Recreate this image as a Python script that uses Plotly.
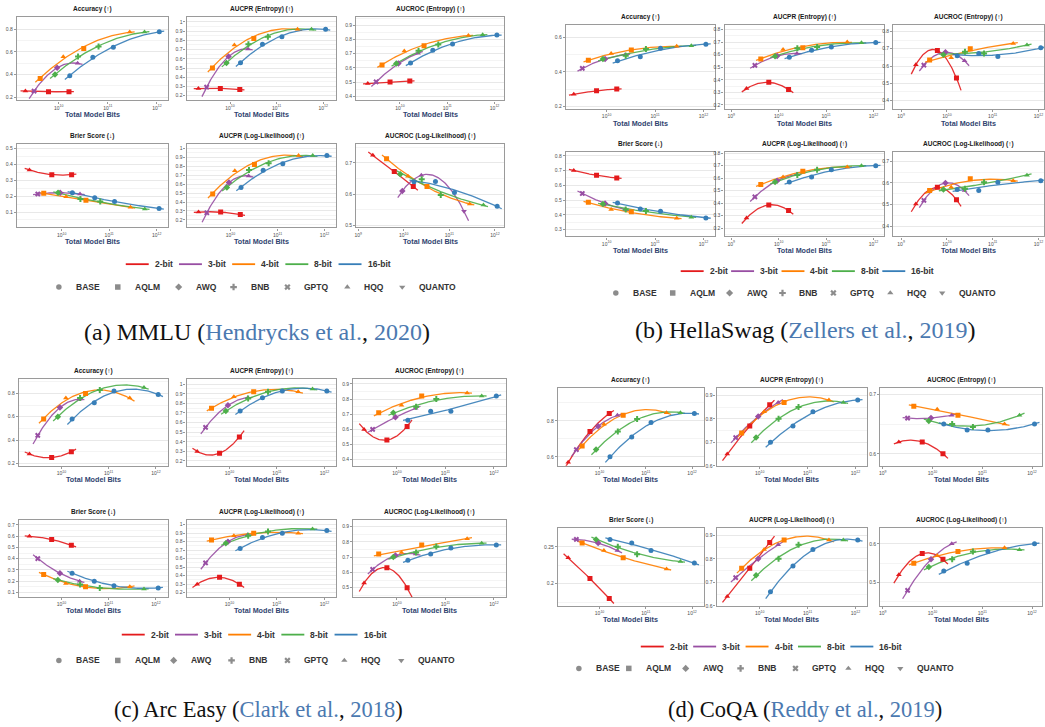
import numpy as np
import plotly.graph_objects as go

W, H = 1045, 727

# ---------------------------------------------------------------- data
MODEL_PARAMS = [1.05e9, 3.1e9, 8.1e9, 70.0e9]
BIT_WIDTHS = [2, 3, 4, 8, 16]
BIT_LABELS = ["2-bit", "3-bit", "4-bit", "8-bit", "16-bit"]
METHODS = ["BASE", "AQLM", "AWQ", "BNB", "GPTQ", "HQQ", "QUANTO"]
# quantisation method shown at each model size, per bit width
BIT_METHODS = [
    ["HQQ", "AQLM", "AQLM", "AQLM"],
    ["GPTQ", "AWQ", "HQQ", "QUANTO"],
    ["AQLM", "HQQ", "AQLM", "HQQ"],
    ["AWQ", "BNB", "BNB", "HQQ"],
    ["BASE", "BASE", "BASE", "BASE"],
]
METRIC_TITLES = ["Accuracy (↑)", "AUCPR (Entropy) (↑)", "AUCROC (Entropy) (↑)",
                 "Brier Score (↓)", "AUCPR (Log-Likelihood) (↑)", "AUCROC (Log-Likelihood) (↑)"]
DATASET_NAMES = ["MMLU", "HellaSwag", "Arc Easy", "CoQA"]
CITATIONS = [("Hendrycks et al.", "2020"), ("Zellers et al.", "2019"),
             ("Clark et al.", "2018"), ("Reddy et al.", "2019")]

# metric values: one list per bit width, one value per model size (1B, 3B, 8B, 70B)
MMLU_ACCURACY = [[0.255, 0.25, 0.25], [0.255, 0.46, 0.50],
                 [0.365, 0.557, 0.629, 0.774], [0.40, 0.56, 0.646, 0.774], [0.39, 0.553, 0.64, 0.777]]
MMLU_AUCPR_ENT = [[0.279, 0.279, 0.268], [0.293, 0.625, 0.707],
                  [0.50, 0.75, 0.82, 0.92], [0.554, 0.757, 0.84, 0.92], [0.557, 0.757, 0.84, 0.92]]
MMLU_AUCROC_ENT = [[0.49, 0.50, 0.507], [0.502, 0.63, 0.703],
                   [0.62, 0.718, 0.755, 0.828], [0.63, 0.72, 0.764, 0.833], [0.634, 0.724, 0.767, 0.83]]
MMLU_BRIER = [[0.365, 0.336, 0.336], [0.214, 0.222, 0.214],
              [0.218, 0.196, 0.175, 0.13], [0.222, 0.183, 0.167, 0.12], [0.222, 0.19, 0.167, 0.122]]
MMLU_AUCPR_LL = [[0.287, 0.287, 0.26], [0.28, 0.618, 0.692],
                 [0.49, 0.75, 0.82, 0.92], [0.563, 0.76, 0.835, 0.92], [0.563, 0.755, 0.83, 0.92]]
MMLU_AUCROC_LL = [[0.724, 0.672, 0.624], [None, 0.61, 0.66, 0.545],
                  [0.713, 0.657, 0.624, 0.568], [0.663, 0.647, 0.597, 0.565], [0.639, 0.64, 0.605, 0.561]]

HS_ACCURACY = [[0.27, 0.29, 0.30], [0.42, 0.475, 0.50],
               [0.467, 0.506, 0.527, 0.548], [0.475, 0.494, 0.533, 0.552], [0.465, 0.488, 0.537, 0.56]]
HS_AUCPR_ENT = [[0.33, 0.38, 0.324], [0.515, 0.59, 0.61],
                [0.565, 0.64, 0.655, 0.70], [0.587, 0.65, 0.66, 0.695], [0.58, 0.635, 0.66, 0.697]]
HS_AUCROC_ENT = [[0.607, 0.69, 0.53], [0.605, 0.68, 0.63],
                 [0.635, 0.648, 0.70, 0.73], [0.665, 0.683, 0.672, 0.722], [0.66, 0.672, 0.655, 0.705]]
HS_BRIER = [[0.70, 0.668, 0.65], [0.545, 0.478, 0.436],
            [0.485, 0.436, 0.422, 0.377], [0.474, 0.436, 0.427, 0.385], [0.48, 0.44, 0.425, 0.38]]
HS_AUCPR_LL = [[0.28, 0.385, 0.34], [0.45, 0.58, 0.63],
               [0.55, 0.61, 0.655, 0.69], [0.57, 0.625, 0.668, 0.70], [0.57, 0.61, 0.668, 0.70]]
HS_AUCROC_LL = [[0.503, 0.58, 0.523], [0.52, 0.60, 0.565],
                [0.565, 0.58, 0.62, 0.61], [0.57, 0.573, 0.603, 0.636], [0.57, 0.565, 0.603, 0.61]]

ARC_ACCURACY = [[0.28, 0.25, 0.30], [0.44, 0.68, 0.75],
                [0.58, 0.76, 0.80, 0.76], [0.60, 0.76, 0.83, 0.85], [0.58, 0.72, 0.82, 0.79]]
ARC_AUCPR_ENT = [[0.30, 0.28, 0.45], [0.55, 0.78, 0.86],
                 [0.75, 0.87, 0.92, 0.92], [0.72, 0.85, 0.92, 0.95], [0.72, 0.86, 0.93, 0.93]]
ARC_AUCROC_ENT = [[0.60, 0.53, 0.62], [0.60, 0.68, 0.74],
                  [0.71, 0.76, 0.82, 0.84], [0.71, 0.75, 0.80, 0.82], [0.66, 0.72, 0.72, 0.82]]
ARC_BRIER = [[0.60, 0.57, 0.52], [0.40, 0.27, 0.20],
             [0.26, 0.18, 0.15, 0.15], [0.21, 0.17, 0.14, 0.13], [0.27, 0.20, 0.16, 0.14]]
ARC_AUCPR_LL = [[0.30, 0.38, 0.30], [0.55, 0.80, 0.88],
                [0.82, 0.87, 0.90, 0.90], [0.78, 0.87, 0.92, 0.95], [0.72, 0.85, 0.90, 0.93]]
ARC_AUCROC_LL = [[0.53, 0.63, 0.50], [0.62, 0.71, 0.72],
                 [0.72, 0.73, 0.78, 0.82], [0.70, 0.73, 0.77, 0.79], [0.68, 0.72, 0.76, 0.78]]

COQA_ACCURACY = [[0.57, 0.74, 0.84], [0.64, 0.77, 0.83],
                 [0.66, 0.78, 0.83, 0.845], [0.64, 0.74, 0.81, 0.845], [0.60, 0.71, 0.79, 0.84]]
COQA_AUCPR_ENT = [[0.65, 0.77, 0.86], [0.72, 0.81, 0.87],
                  [0.74, 0.83, 0.87, 0.88], [0.72, 0.80, 0.85, 0.87], [0.70, 0.77, 0.83, 0.88]]
COQA_AUCROC_ENT = [[0.62, 0.62, 0.60], [0.66, 0.66, 0.665],
                   [0.68, 0.675, 0.665, 0.65], [0.655, 0.65, 0.645, 0.665], [0.65, 0.64, 0.64, 0.65]]
COQA_BRIER = [[0.235, 0.207, 0.18], [0.26, 0.255, 0.245],
              [0.255, 0.245, 0.235, 0.22], [0.26, 0.25, 0.24, 0.23], [0.26, 0.255, 0.245, 0.228]]
COQA_AUCPR_LL = [[0.64, 0.76, 0.87], [0.72, 0.80, 0.86],
                 [0.76, 0.84, 0.88, 0.88], [0.73, 0.80, 0.86, 0.88], [0.66, 0.77, 0.84, 0.88]]
COQA_AUCROC_LL = [[0.52, 0.575, 0.56], [0.48, 0.56, 0.60],
                  [0.55, 0.57, 0.58, 0.59], [0.54, 0.56, 0.58, 0.585], [0.53, 0.55, 0.58, 0.60]]

# ---------------------------------------------------------------- styling
BIT_COLORS = ["#e41a1c", "#984ea3", "#ff7f00", "#4daf4a", "#377eb8"]
METHOD_SYMBOLS = {"BASE": "circle", "AQLM": "square", "AWQ": "diamond", "BNB": "cross",
                  "GPTQ": "x", "HQQ": "triangle-up", "QUANTO": "triangle-down"}
SANS = "Liberation Sans, Arial, sans-serif"
SERIF = "Liberation Serif, Times New Roman, serif"
CITE_BLUE = "#4b79b0"

# panel geometry in pixels: column x-extents, row y-extents, axis ranges per metric
PANELS = [
    dict(data=[MMLU_ACCURACY, MMLU_AUCPR_ENT, MMLU_AUCROC_ENT, MMLU_BRIER, MMLU_AUCPR_LL, MMLU_AUCROC_LL],
         cols=[(15, 166), (185, 335), (355, 503)], rows=[(15, 99), (143, 227)],
         xr=[(9.15, 12.22), (9.07, 12.28), (9.08, 12.2), (9.06, 12.23), (9.07, 12.25), (8.96, 12.2)],
         yr=[(0.174, 0.907, 0.2), (0.15, 1.054, 0.1), (0.372, 0.958, 0.1),
             (0.003, 0.529, 0.1), (0.115, 1.05, 0.1), (0.493, 0.76, 0.1)],
         line_leg=(124, 264), line_step=53.3, mark_leg=[57, 116, 177, 232, 286, 346, 401], mark_y=287,
         caption=(255, 332, 24)),
    dict(data=[HS_ACCURACY, HS_AUCPR_ENT, HS_AUCROC_ENT, HS_BRIER, HS_AUCPR_LL, HS_AUCROC_LL],
         cols=[(565, 714), (724, 884), (893, 1044)], rows=[(23, 108), (151, 236)],
         xr=[(9.16, 12.23), (8.86, 12.23), (8.83, 12.12), (9.16, 12.23), (8.86, 12.23), (8.83, 12.12)],
         yr=[(0.183, 0.673, 0.2), (0.166, 0.837, 0.1), (0.35, 0.838, 0.1),
             (0.255, 0.826, 0.1), (0.133, 0.81, 0.1), (0.354, 0.743, 0.1)],
         line_leg=(680, 271), line_step=50.5, mark_leg=[615, 672, 729, 782, 833, 890, 942], mark_y=293,
         caption=(805, 330, 24)),
    dict(data=[ARC_ACCURACY, ARC_AUCPR_ENT, ARC_AUCROC_ENT, ARC_BRIER, ARC_AUCPR_LL, ARC_AUCROC_LL],
         cols=[(17, 166), (185, 335), (352, 505)], rows=[(380, 467), (522, 599)],
         xr=[(9.1, 12.25)] * 6,
         yr=[(0.18, 0.92, 0.2), (0.15, 1.05, 0.1), (0.36, 0.93, 0.1),
             (0.06, 0.74, 0.1), (0.15, 1.05, 0.1), (0.44, 0.94, 0.1)],
         line_leg=(120, 637), line_step=53.3, mark_leg=[57, 116, 172, 230, 286, 343, 400], mark_y=663,
         caption=(257, 712, 22.5)),
    dict(data=[COQA_ACCURACY, COQA_AUCPR_ENT, COQA_AUCROC_ENT, COQA_BRIER, COQA_AUCPR_LL, COQA_AUCROC_LL],
         cols=[(557, 703), (716, 867), (880, 1042)], rows=[(389, 467), (530, 608)],
         xr=[(9.1, 12.25), (9.1, 12.25), (8.95, 12.2), (9.1, 12.25), (9.1, 12.25), (8.95, 12.2)],
         yr=[(0.55, 0.98, 0.2), (0.6, 0.93, 0.1), (0.58, 0.71, 0.1),
             (0.17, 0.275, 0.05), (0.6, 0.93, 0.1), (0.44, 0.64, 0.1)],
         line_leg=(640, 649), line_step=52.5, mark_leg=[578, 628, 685, 740, 795, 848, 900], mark_y=671,
         caption=(805, 712, 22.5)),
]

fig = go.Figure()
axes = {}
notes = []

n = 0
for p, panel in enumerate(PANELS):
    for m in range(6):
        n += 1
        r, c = divmod(m, 3)
        x0, x1 = panel["cols"][c]
        y0, y1 = panel["rows"][r]
        xlo, xhi = panel["xr"][m]
        ylo, yhi, ydt = panel["yr"][m]
        sfx = "" if n == 1 else str(n)
        axes["xaxis" + sfx] = dict(
            domain=[x0 / W, x1 / W], anchor="y" + sfx, type="log", range=[xlo, xhi],
            tickmode="array", tickvals=[1e9, 1e10, 1e11, 1e12],
            ticktext=["10<sup>9</sup>", "10<sup>10</sup>", "10<sup>11</sup>", "10<sup>12</sup>"],
            tickfont=dict(size=5, color="#4d4d4d", family=SANS), ticks="outside", ticklen=2,
            tickcolor="#999999", showgrid=False, zeroline=False,
            showline=True, mirror=True, linecolor="#9a9a9a", linewidth=1.4, fixedrange=True)
        axes["yaxis" + sfx] = dict(
            domain=[1 - y1 / H, 1 - y0 / H], anchor="x" + sfx, range=[ylo, yhi],
            tickmode="linear", tick0=0, dtick=ydt,
            tickfont=dict(size=5, color="#4d4d4d", family=SANS), ticks="outside", ticklen=2,
            tickcolor="#999999", showgrid=True, gridcolor="#e8e8e8", gridwidth=0.7,
            minor=dict(tick0=0, dtick=ydt / 2, showgrid=True, gridcolor="#f4f4f4", gridwidth=0.5),
            zeroline=False, showline=True, mirror=True, linecolor="#9a9a9a", linewidth=1.4,
            fixedrange=True)

        series = panel["data"][m]
        # fitted quadratic trend per bit width, in log10(total bits)
        for b, vals in enumerate(series):
            pts = [(np.log10(MODEL_PARAMS[i] * BIT_WIDTHS[b]), v)
                   for i, v in enumerate(vals) if v is not None]
            lx = np.array([q[0] for q in pts])
            ly = np.array([q[1] for q in pts])
            coef = np.polyfit(lx, ly, min(2, len(lx) - 1))
            gx = np.linspace(lx.min() - 0.1, lx.max() + 0.1, 80)
            fig.add_trace(go.Scatter(
                x=10 ** gx, y=np.polyval(coef, gx), mode="lines", xaxis="x" + sfx, yaxis="y" + sfx,
                line=dict(color=BIT_COLORS[b], width=1.3), opacity=0.9, hoverinfo="skip",
                showlegend=False))
        for b, vals in enumerate(series):
            pts = [(MODEL_PARAMS[i] * BIT_WIDTHS[b], v, BIT_METHODS[b][i])
                   for i, v in enumerate(vals) if v is not None]
            fig.add_trace(go.Scatter(
                x=[q[0] for q in pts], y=[q[1] for q in pts], mode="markers",
                xaxis="x" + sfx, yaxis="y" + sfx,
                marker=dict(color=BIT_COLORS[b], size=5,
                            symbol=[METHOD_SYMBOLS[q[2]] for q in pts], line=dict(width=0)),
                showlegend=False, hovertemplate="%{x:.3g} bits: %{y:.3f}<extra></extra>"))

        cx = (x0 + x1) / 2
        notes.append(dict(x=cx / W, y=1 - (y0 - 8) / H, xref="paper", yref="paper",
                          text="<b>%s</b>" % METRIC_TITLES[m], showarrow=False,
                          font=dict(size=6.5, color="#1a1a1a", family=SANS),
                          xanchor="center", yanchor="middle"))
        notes.append(dict(x=cx / W, y=1 - (y1 + 14) / H, xref="paper", yref="paper",
                          text="<b>Total Model Bits</b>", showarrow=False,
                          font=dict(size=7.2, color="#2f4470", family=SANS),
                          xanchor="center", yanchor="middle"))

    # legend for bit widths (line keys) and methods (marker keys)
    lx0, ly = panel["line_leg"]
    for b, lab in enumerate(BIT_LABELS):
        xs = lx0 + b * panel["line_step"]
        fig.add_trace(go.Scatter(x=[xs, xs + 23], y=[ly, ly], mode="lines", xaxis="x25", yaxis="y25",
                                 line=dict(color=BIT_COLORS[b], width=1.8), hoverinfo="skip",
                                 showlegend=False))
        notes.append(dict(x=(xs + 27) / W, y=1 - ly / H, xref="paper", yref="paper",
                          text="<b>%s</b>" % lab, showarrow=False, xanchor="left", yanchor="middle",
                          font=dict(size=8.5, color="#333333", family=SANS)))
    my = panel["mark_y"]
    fig.add_trace(go.Scatter(x=panel["mark_leg"], y=[my] * len(METHODS), mode="markers",
                             xaxis="x25", yaxis="y25", hoverinfo="skip", showlegend=False,
                             marker=dict(color="#8c8c8c", size=5.5,
                                         symbol=[METHOD_SYMBOLS[k] for k in METHODS])))
    for k, mx in zip(METHODS, panel["mark_leg"]):
        notes.append(dict(x=(mx + 15) / W, y=1 - my / H, xref="paper", yref="paper",
                          text="<b>%s</b>" % k, showarrow=False, xanchor="left", yanchor="middle",
                          font=dict(size=8.5, color="#333333", family=SANS)))

    cxp, cyp, csz = panel["caption"]
    who, year = CITATIONS[p]
    cap = "(%s) %s (<span style='color:%s'>%s</span>, <span style='color:%s'>%s</span>)" % (
        "abcd"[p], DATASET_NAMES[p], CITE_BLUE, who, CITE_BLUE, year)
    notes.append(dict(x=cxp / W, y=1 - cyp / H, xref="paper", yref="paper", text=cap,
                      showarrow=False, xanchor="center", yanchor="middle",
                      font=dict(size=csz, color="#111111", family=SERIF)))

axes["xaxis25"] = dict(domain=[0, 1], anchor="y25", range=[0, W], visible=False, fixedrange=True)
axes["yaxis25"] = dict(domain=[0, 1], anchor="x25", range=[H, 0], visible=False, fixedrange=True)

fig.update_layout(width=W, height=H, autosize=False, margin=dict(l=0, r=0, t=0, b=0),
                  paper_bgcolor="white", plot_bgcolor="rgba(0,0,0,0)", showlegend=False,
                  annotations=notes, **axes)
fig.write_html("out.html", config={"displayModeBar": False})
